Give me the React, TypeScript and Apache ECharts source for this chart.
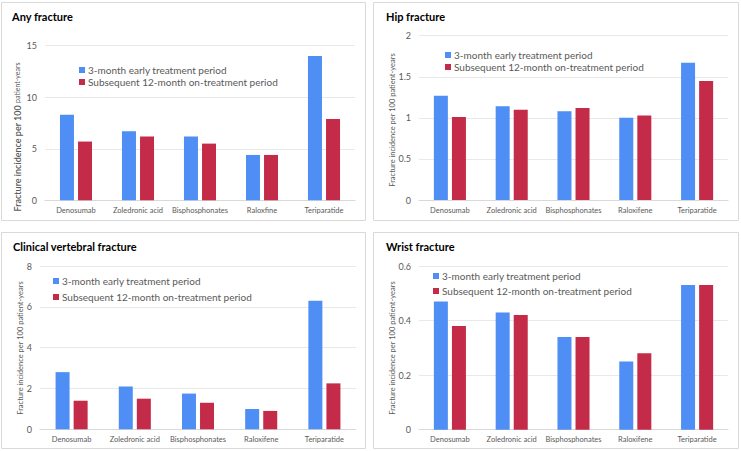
import React, { useEffect, useRef } from "react";
import * as echarts from "echarts";

const categoriesAny = ["Denosumab", "Zoledronic acid", "Bisphosphonates", "Raloxfine", "Teriparatide"];
const categories = ["Denosumab", "Zoledronic acid", "Bisphosphonates", "Raloxifene", "Teriparatide"];

const seriesNames = ["3-month early treatment period", "Subsequent 12-month on-treatment period"];

const anyEarly = [8.3, 6.7, 6.2, 4.4, 14.0];
const anySubsequent = [5.7, 6.2, 5.5, 4.4, 7.9];

const hipEarly = [1.27, 1.14, 1.08, 1.0, 1.67];
const hipSubsequent = [1.01, 1.1, 1.12, 1.03, 1.45];

const vertEarly = [2.8, 2.1, 1.75, 1.0, 6.3];
const vertSubsequent = [1.4, 1.5, 1.3, 0.9, 2.25];

const wristEarly = [0.47, 0.43, 0.34, 0.25, 0.53];
const wristSubsequent = [0.38, 0.42, 0.34, 0.28, 0.53];

const panelTitles = ["Any fracture", "Hip fracture", "Clinical vertebral fracture", "Wrist fracture"];
const yAxisTitleMain = "Fracture incidence per 100";
const yAxisTitleTail = "patient-years";

const BLUE = "#4e8ef5";
const RED = "#c32b48";
const FONT = "Lato, 'Open Sans', sans-serif";
const GRAY = "#595959";

export default function App() {
  const ref = useRef<HTMLDivElement>(null);

  useEffect(() => {
    if (!ref.current) return;
    const chart = echarts.init(ref.current, undefined, { renderer: "svg" });

    const grids = [
      { left: 45, top: 45.7, width: 310, height: 154.6 },
      { left: 419, top: 35.7, width: 309, height: 164.3 },
      { left: 40, top: 266, width: 316, height: 163.3 },
      { left: 419, top: 266, width: 309, height: 163.7 },
    ];
    const yRanges = [
      { max: 15, interval: 5 },
      { max: 2, interval: 0.5 },
      { max: 8, interval: 2 },
      { max: 0.6, interval: 0.2 },
    ];
    const cats = [categoriesAny, categories, categories, categories];
    const data = [
      [anyEarly, anySubsequent],
      [hipEarly, hipSubsequent],
      [vertEarly, vertSubsequent],
      [wristEarly, wristSubsequent],
    ];
    const legendPos = [
      { left: 79, top: 64, gap: 0 },
      { left: 445, top: 49, gap: 0 },
      { left: 53, top: 275, gap: 4 },
      { left: 433, top: 270, gap: 3 },
    ];
    const titlePos = [
      { left: 12, top: 11 },
      { left: 386, top: 11 },
      { left: 13, top: 241 },
      { left: 386, top: 241 },
    ];
    const yTitlePos = [
      { x: 17, y: 137 },
      { x: 392, y: 120 },
      { x: 20, y: 348 },
      { x: 392, y: 348 },
    ];

    const series: any[] = [];
    data.forEach((pair, i) => {
      pair.forEach((vals, j) => {
        series.push({
          type: "bar",
          name: seriesNames[j],
          xAxisIndex: i,
          yAxisIndex: i,
          data: vals,
          barWidth: 14,
          barGap: "29%",
          itemStyle: { color: j === 0 ? BLUE : RED },
        });
      });
    });

    const option: any = {
      animation: false,
      backgroundColor: "#ffffff",
      textStyle: { fontFamily: FONT },
      title: panelTitles.map((t, i) => ({
        text: t,
        left: titlePos[i].left,
        top: titlePos[i].top,
        padding: 0,
        textStyle: { fontFamily: FONT, fontSize: 11, fontWeight: "bold", color: "#000" },
      })),
      legend: legendPos.map((p) => ({
        data: seriesNames,
        orient: "vertical",
        left: p.left,
        top: p.top,
        padding: 0,
        itemWidth: 6,
        itemHeight: 6,
        itemGap: p.gap,
        icon: "rect",
        selectedMode: false,
        textStyle: { fontFamily: FONT, fontSize: 10, color: GRAY, lineHeight: 12, padding: [0, 0, 0, -2] },
      })),
      grid: grids,
      xAxis: grids.map((_, i) => ({
        type: "category",
        gridIndex: i,
        data: cats[i],
        axisTick: { show: false },
        axisLine: { lineStyle: { color: "#d9d9d9" } },
        axisLabel: { fontFamily: FONT, fontSize: 7.5, color: GRAY, margin: 6, interval: 0 },
      })),
      yAxis: grids.map((_, i) => ({
        type: "value",
        gridIndex: i,
        min: 0,
        max: yRanges[i].max,
        interval: yRanges[i].interval,
        axisLine: { show: false },
        axisTick: { show: false },
        axisLabel: { fontFamily: FONT, fontSize: 9, color: GRAY, margin: 8 },
        splitLine: { lineStyle: { color: "#e8e8e8" } },
      })),
      series,
      graphic: [
        { type: "rect", shape: { x: 1.5, y: 2.5, width: 364, height: 218 }, style: { fill: "none", stroke: "#d9d9d9", lineWidth: 1 }, z: -1 },
        { type: "rect", shape: { x: 373.5, y: 2.5, width: 365, height: 218 }, style: { fill: "none", stroke: "#d9d9d9", lineWidth: 1 }, z: -1 },
        { type: "rect", shape: { x: 1.5, y: 232.5, width: 364, height: 216 }, style: { fill: "none", stroke: "#d9d9d9", lineWidth: 1 }, z: -1 },
        { type: "rect", shape: { x: 373.5, y: 232.5, width: 365, height: 216 }, style: { fill: "none", stroke: "#d9d9d9", lineWidth: 1 }, z: -1 },
        ...yTitlePos.map((p, i) => ({
          type: "text",
          x: p.x,
          y: p.y,
          rotation: Math.PI / 2,
          style: {
            text:
              i === 0
                ? `{a|${yAxisTitleMain} }{b|${yAxisTitleTail}}`
                : `${yAxisTitleMain} ${yAxisTitleTail}`,
            align: "center",
            verticalAlign: "middle",
            fontFamily: FONT,
            fontSize: 7.5,
            fill: GRAY,
            rich: {
              a: { fontFamily: FONT, fontSize: 9, fontWeight: 600, color: "#404040" },
              b: { fontFamily: FONT, fontSize: 7, color: "#404040" },
            },
          },
        })),
      ],
    };

    chart.setOption(option);
    return () => chart.dispose();
  }, []);

  return (
    <div
      ref={ref}
      style={{ position: "fixed", left: 0, top: 0, width: 741, height: 451, background: "#fff" }}
    />
  );
}
